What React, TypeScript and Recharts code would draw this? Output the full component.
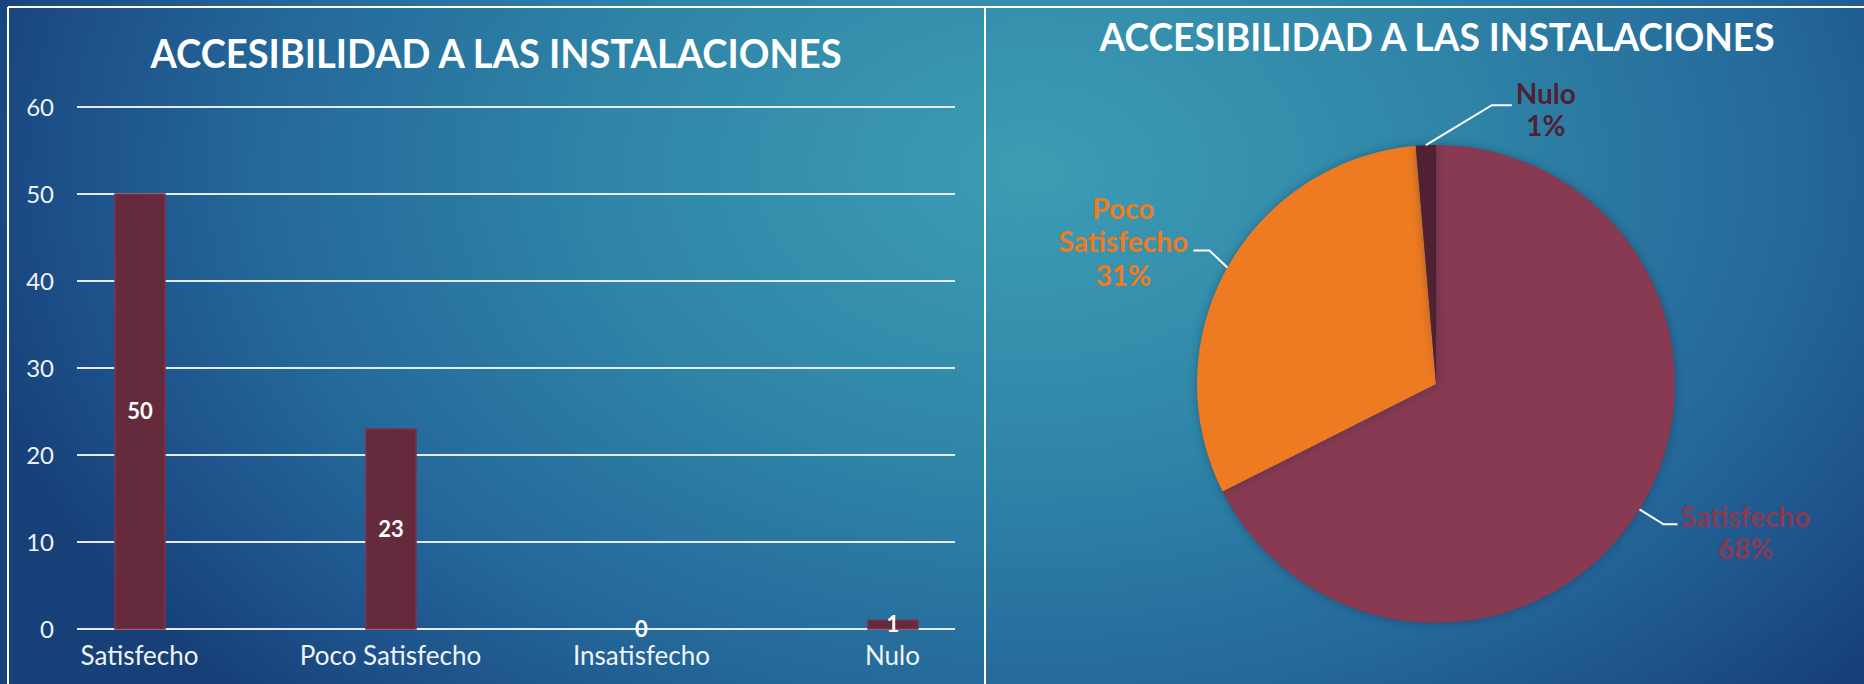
import React from 'react';
import {
  BarChart,
  Bar,
  CartesianGrid,
  XAxis,
  YAxis,
  LabelList,
  ReferenceDot,
  PieChart,
  Pie,
  Cell,
} from 'recharts';

const title = 'ACCESIBILIDAD A LAS INSTALACIONES';
const categories = ['Satisfecho', 'Poco Satisfecho', 'Insatisfecho', 'Nulo'];
const counts = [50, 23, 0, 1];
const yTicks = [0, 10, 20, 30, 40, 50, 60];
const sliceColors = ['#883a52', '#ee7b22', '#a5a5a5', '#4f2132'];

const data = categories.map((name, i) => ({ name, value: counts[i] }));

const FONT = 'Lato, "Open Sans", sans-serif';
const RADIAN = Math.PI / 180;

// leader line / text placement for each slice label (pixels)
const labelLayout: Record<number, { ex: number; ey: number; hx: number; tx: number; lines: number[] }> = {
  0: { ex: 24, ey: 15, hx: 14, tx: 68, lines: [-8, 24] },
  1: { ex: -18, ey: -17, hx: -16, tx: -70, lines: [-42, -9, 25] },
  3: { ex: 66, ey: -40, hx: 20, tx: 34, lines: [-12, 20] },
};

const barLabelStyle = {
  fill: '#ffffff',
  fontSize: 22,
  fontWeight: 700,
  fontFamily: FONT,
};

function renderPieLabel(props: any) {
  const { cx, cy, midAngle, outerRadius, percent, name, index, value } = props;
  if (!value) return null;
  const cfg = labelLayout[index];
  if (!cfg) return null;
  const sx = cx + outerRadius * Math.cos(-midAngle * RADIAN);
  const sy = cy + outerRadius * Math.sin(-midAngle * RADIAN);
  const mx = sx + cfg.ex;
  const my = sy + cfg.ey;
  const endX = mx + cfg.hx;
  const textX = endX + cfg.tx;
  const words = index === 1 ? String(name).split(' ') : [String(name)];
  const texts = [...words, `${Math.round(percent * 100)}%`];
  return (
    <g>
      <polyline
        points={`${sx},${sy} ${mx},${my} ${endX},${my}`}
        fill="none"
        stroke="#ffffff"
        strokeWidth={2}
      />
      {texts.map((t, i) => (
        <text
          key={i}
          x={textX}
          y={my + cfg.lines[i]}
          textAnchor="middle"
          dominantBaseline="central"
          fill={sliceColors[index]}
          fontFamily={FONT}
          fontWeight={700}
          fontSize={28}
        >
          {t}
        </text>
      ))}
    </g>
  );
}

export default function App() {
  return (
    <div
      style={{
        position: 'absolute',
        left: 0,
        top: 0,
        width: 1864,
        height: 684,
        overflow: 'hidden',
        background:
          'radial-gradient(ellipse 1100px 760px at 1030px 170px, #3c9db4 0%, #2f84a7 40%, #24689a 70%, #1c4d86 90%, #173f78 100%)',
        fontFamily: FONT,
      }}
    >
      <div style={{ position: 'absolute', left: 0, top: 0 }}>
        <BarChart
          width={985}
          height={684}
          data={data}
          margin={{ top: 107, right: 30, bottom: 10, left: 17 }}
        >
          <CartesianGrid vertical={false} stroke="#e4ecf1" strokeWidth={2} />
          <XAxis
            dataKey="name"
            height={45}
            padding={{ left: -63, right: -63 }}
            axisLine={false}
            tickLine={false}
            tickSize={0}
            tickMargin={18}
            interval={0}
            tick={{ fill: '#eef3f7', fontSize: 26, fontFamily: FONT }}
          />
          <YAxis
            width={60}
            domain={[0, 60]}
            ticks={yTicks}
            axisLine={false}
            tickLine={false}
            tickSize={0}
            tickMargin={23}
            tick={{ fill: '#eef3f7', fontSize: 24, fontFamily: FONT }}
          />
          <Bar
            dataKey="value"
            barSize={50}
            fill="#652a3c"
            stroke="#7e3149"
            strokeWidth={1.5}
            isAnimationActive={false}
          >
            <LabelList dataKey="value" position="center" {...barLabelStyle} />
          </Bar>
          {data
            .filter((d) => d.value === 0)
            .map((d) => (
              <ReferenceDot
                key={d.name}
                x={d.name}
                y={d.value}
                r={0}
                fill="none"
                stroke="none"
                label={{ value: String(d.value), position: 'center', ...barLabelStyle }}
              />
            ))}
        </BarChart>
      </div>

      <div style={{ position: 'absolute', left: 985, top: 0 }}>
        <PieChart width={879} height={684} margin={{ top: 0, right: 0, bottom: 0, left: 0 }}>
          <Pie
            data={data}
            dataKey="value"
            nameKey="name"
            cx={451}
            cy={384}
            outerRadius={239}
            startAngle={90}
            endAngle={-270}
            stroke="none"
            label={renderPieLabel}
            labelLine={false}
            isAnimationActive={false}
          >
            {data.map((d, i) => (
              <Cell
                key={d.name}
                fill={sliceColors[i]}
                style={{ filter: 'drop-shadow(0px 0px 5px rgba(10,30,60,0.35))' }}
              />
            ))}
          </Pie>
        </PieChart>
      </div>

      <svg
        width={1864}
        height={684}
        style={{ position: 'absolute', left: 0, top: 0, pointerEvents: 'none' }}
      >
        <line x1={8} y1={7} x2={1864} y2={7} stroke="#ffffff" strokeWidth={2} />
        <line x1={8} y1={7} x2={8} y2={684} stroke="#ffffff" strokeWidth={2} />
        <line x1={985} y1={7} x2={985} y2={684} stroke="#ffffff" strokeWidth={2} />
        <text
          x={496}
          y={68}
          textAnchor="middle"
          fill="#ffffff"
          fontFamily={FONT}
          fontWeight={700}
          fontSize={40}
          textLength={691}
          lengthAdjust="spacingAndGlyphs"
        >
          {title}
        </text>
        <text
          x={1437}
          y={51}
          textAnchor="middle"
          fill="#ffffff"
          fontFamily={FONT}
          fontWeight={700}
          fontSize={38}
          textLength={675}
          lengthAdjust="spacingAndGlyphs"
        >
          {title}
        </text>
      </svg>
    </div>
  );
}
